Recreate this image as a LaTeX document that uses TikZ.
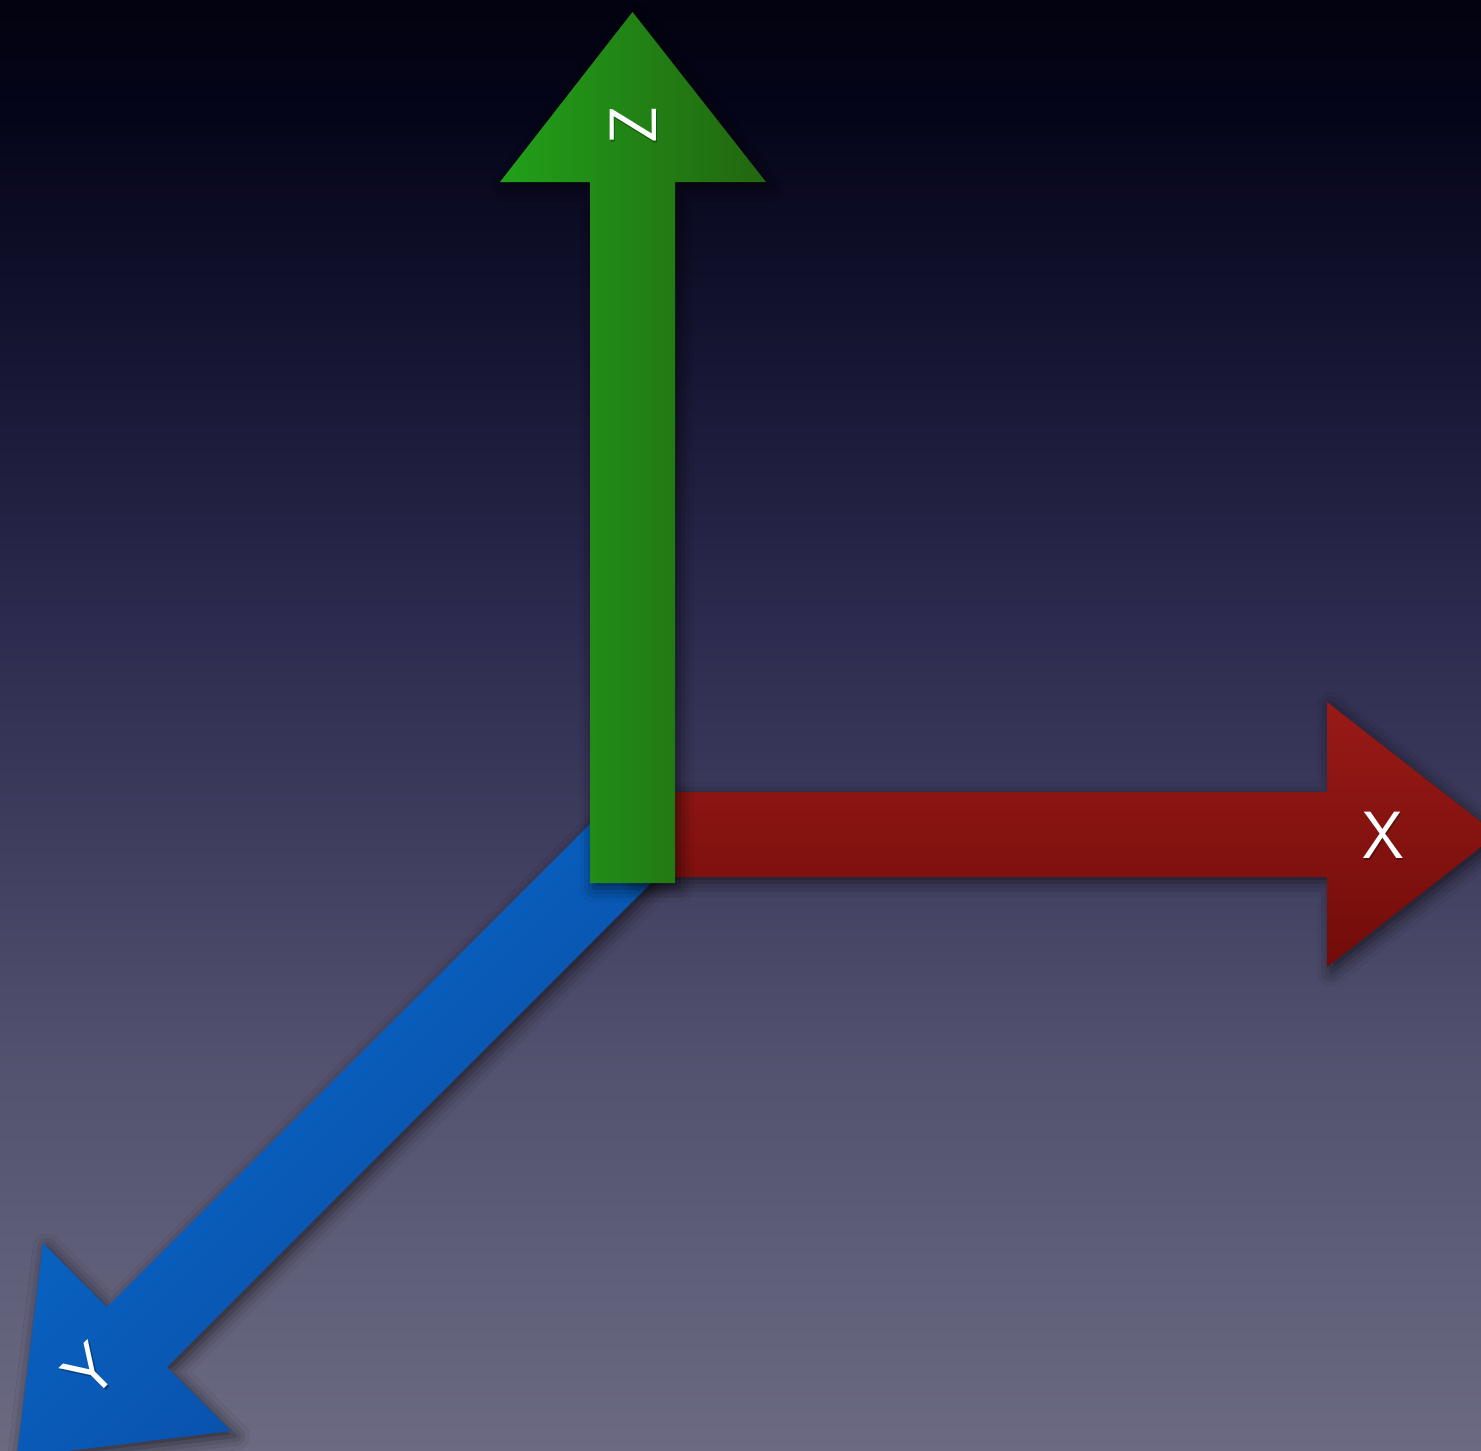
\documentclass[tikz,border=0pt]{standalone}
\usetikzlibrary{shadows.blur}

% background gradient stops (top to bottom)
\definecolor{bgA}{HTML}{020210}
\definecolor{bgB}{HTML}{05051A}
\definecolor{bgC}{HTML}{171634}
\definecolor{bgD}{HTML}{2C2A4E}
\definecolor{bgE}{HTML}{53526F}
\definecolor{bgF}{HTML}{6B6A82}
% arrow colours
\definecolor{greenL}{HTML}{21A019}
\definecolor{greenR}{HTML}{226610}
\definecolor{redT}{HTML}{981A17}
\definecolor{redB}{HTML}{720C09}
\definecolor{blueT}{HTML}{0A6CCC}
\definecolor{blueB}{HTML}{0848A0}

\begin{document}
\begin{tikzpicture}[x=0.01cm, y=-0.01cm,
  arrowshadow/.style={blur shadow={shadow xshift=1.2pt, shadow yshift=-1.4pt,
      shadow blur radius=4pt, shadow opacity=60}},
  axislabel/.style={text=white, inner sep=0pt,
      font=\sffamily\fontsize{19}{20}\selectfont},
  labelshadow/.style={text=black, opacity=0.3, inner sep=0pt,
      font=\sffamily\fontsize{19}{20}\selectfont}]
\useasboundingbox (0,0) rectangle (1481,1451);
\clip (0,0) rectangle (1481,1451);

% background
\shade[top color=bgA, bottom color=bgB] (0,0) rectangle (1481,121);
\shade[top color=bgB, bottom color=bgC] (0,120) rectangle (1481,371);
\shade[top color=bgC, bottom color=bgD] (0,370) rectangle (1481,621);
\shade[top color=bgD, bottom color=bgE] (0,620) rectangle (1481,1071);
\shade[top color=bgE, bottom color=bgF] (0,1070) rectangle (1481,1451);

% Y axis (pointing down-left)
\shade[arrowshadow, top color=blueT, bottom color=blueB, shading angle=45]
  (602,812) -- (107,1307) -- (43,1243) -- (16.8,1457.2) -- (231,1431)
  -- (167,1367) -- (662,872) -- cycle;

% X axis (pointing right)
\shade[arrowshadow, top color=redT, bottom color=redB]
  (632,792) -- (1327,792) -- (1327,702) -- (1497,834.5) -- (1327,967)
  -- (1327,877) -- (632,877) -- cycle;

% Z axis (pointing up)
\shade[arrowshadow, left color=greenL, right color=greenR]
  (590,883) -- (590,182) -- (500,182) -- (632.5,12) -- (766,182)
  -- (675,182) -- (675,883) -- cycle;

% axis labels, each set along its axis
\node[labelshadow, rotate=90] (zlabsh) at (634.5,127) {Z};
\node[axislabel, rotate=90] (zlab) at (633,125) {Z};
\node[labelshadow] (xlabsh) at (1384.5,837) {X};
\node[axislabel] (xlab) at (1383,835) {X};
\node[labelshadow, rotate=45] (ylabsh) at (91.5,1372) {Y};
\node[axislabel, rotate=45] (ylab) at (90,1370) {Y};
\end{tikzpicture}
\end{document}
